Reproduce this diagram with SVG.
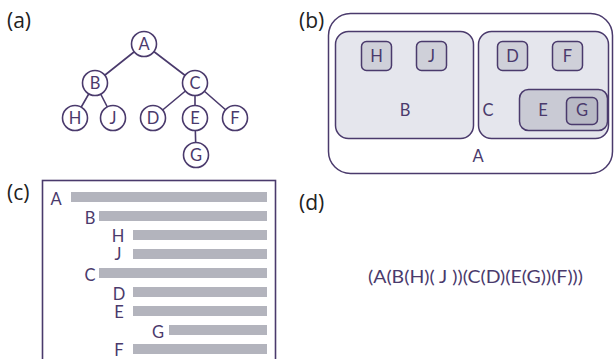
<svg xmlns="http://www.w3.org/2000/svg" width="614" height="359" viewBox="0 0 614 359">
<style>
text{font-family:Lato,"Open Sans","Liberation Sans",sans-serif;fill:#4a3a6c}
.lbl{font-size:21px;fill:#222;font-family:"Open Sans","Liberation Sans",sans-serif}
.t{font-size:16.5px;text-anchor:middle}
.n circle{fill:#fff;stroke:#4a3a6c;stroke-width:1.6}
.edge{stroke:#4a3a6c;stroke-width:1.6;fill:none}
.box{stroke:#4a3a6c;stroke-width:1.5}
.bar{fill:#b3b4bd}
</style>
<rect width="614" height="359" fill="#fff"/>
<!-- (a) -->
<text class="lbl" x="7" y="28">(a)</text>
<g id="edges">
<path class="edge" d="M144 44L95 83M144 44L195 83M95 83L75 118M95 83L113 118M195 83L153 118M195 83L195 118M195 83L235 118M195 118L196 155"/>
</g>
<g id="nA" class="n"><circle cx="144" cy="44" r="12.5"/><text class="t" x="144" y="50">A</text></g>
<g id="nB" class="n"><circle cx="95" cy="83" r="12.5"/><text class="t" x="95" y="89">B</text></g>
<g id="nC" class="n"><circle cx="195" cy="83" r="12.5"/><text class="t" x="195" y="89">C</text></g>
<g id="nH" class="n"><circle cx="75" cy="118" r="12.5"/><text class="t" x="75" y="124">H</text></g>
<g id="nJ" class="n"><circle cx="113" cy="118" r="12.5"/><text class="t" x="113" y="124">J</text></g>
<g id="nD" class="n"><circle cx="153" cy="118" r="12.5"/><text class="t" x="153" y="124">D</text></g>
<g id="nE" class="n"><circle cx="195" cy="118" r="12.5"/><text class="t" x="195" y="124">E</text></g>
<g id="nF" class="n"><circle cx="235" cy="118" r="12.5"/><text class="t" x="235" y="124">F</text></g>
<g id="nG" class="n"><circle cx="196" cy="155" r="12.5"/><text class="t" x="196" y="161">G</text></g>
<!-- (b) -->
<text class="lbl" x="299" y="28">(b)</text>
<g id="bA"><rect class="box" x="328.5" y="13.5" width="284" height="160" rx="22" fill="#fff"/><text class="t" x="478" y="162">A</text></g>
<g id="bB"><rect class="box" x="335.5" y="31.5" width="138" height="107" rx="13" fill="#e5e6ed"/><text class="t" x="405" y="116">B</text></g>
<g id="bH"><rect class="box" x="361.5" y="41.5" width="30" height="29" rx="5" fill="#cfd0d9"/><text class="t" x="376.5" y="62">H</text></g>
<g id="bJ"><rect class="box" x="416.5" y="41.5" width="30" height="29" rx="5" fill="#cfd0d9"/><text class="t" x="431.5" y="62">J</text></g>
<g id="bC"><rect class="box" x="478.5" y="31.5" width="130" height="107" rx="13" fill="#e5e6ed"/><text class="t" x="488" y="116">C</text></g>
<g id="bD"><rect class="box" x="497.5" y="41.5" width="30" height="29" rx="5" fill="#cfd0d9"/><text class="t" x="512.5" y="62">D</text></g>
<g id="bF"><rect class="box" x="552.5" y="41.5" width="30" height="29" rx="5" fill="#cfd0d9"/><text class="t" x="567.5" y="62">F</text></g>
<g id="bE"><rect class="box" x="519.5" y="89.5" width="88" height="41" rx="9" fill="#c9cad4"/><text class="t" x="543" y="116">E</text></g>
<g id="bG"><rect class="box" x="566.5" y="97.5" width="31" height="27" rx="5" fill="#b8b9c5"/><text class="t" x="582" y="116">G</text></g>
<!-- (c) -->
<text class="lbl" x="7" y="200">(c)</text>
<g id="list">
<rect x="42.5" y="180.5" width="233" height="190" fill="none" stroke="#4a3a6c" stroke-width="1.6"/>
<rect class="bar" x="71" y="192" width="196" height="10"/><text class="t" x="56" y="205">A</text>
<rect class="bar" x="99" y="211" width="168" height="10"/><text class="t" x="90" y="224">B</text>
<rect class="bar" x="133" y="230" width="134" height="10"/><text class="t" x="118" y="242">H</text>
<rect class="bar" x="133" y="249" width="134" height="10"/><text class="t" x="118" y="259.5">J</text>
<rect class="bar" x="99" y="268" width="168" height="10"/><text class="t" x="90" y="281">C</text>
<rect class="bar" x="133" y="287" width="134" height="10"/><text class="t" x="119" y="300">D</text>
<rect class="bar" x="133" y="306" width="134" height="10"/><text class="t" x="119" y="318">E</text>
<rect class="bar" x="169" y="325" width="98" height="10"/><text class="t" x="158" y="338">G</text>
<rect class="bar" x="133" y="344" width="134" height="10"/><text class="t" x="119" y="356">F</text>
</g>
<!-- (d) -->
<text class="lbl" x="299" y="210">(d)</text>
<g id="paren"><text x="368" y="283" font-size="17" textLength="215" lengthAdjust="spacingAndGlyphs">(A(B(H)( J ))(C(D)(E(G))(F)))</text></g>
</svg>
